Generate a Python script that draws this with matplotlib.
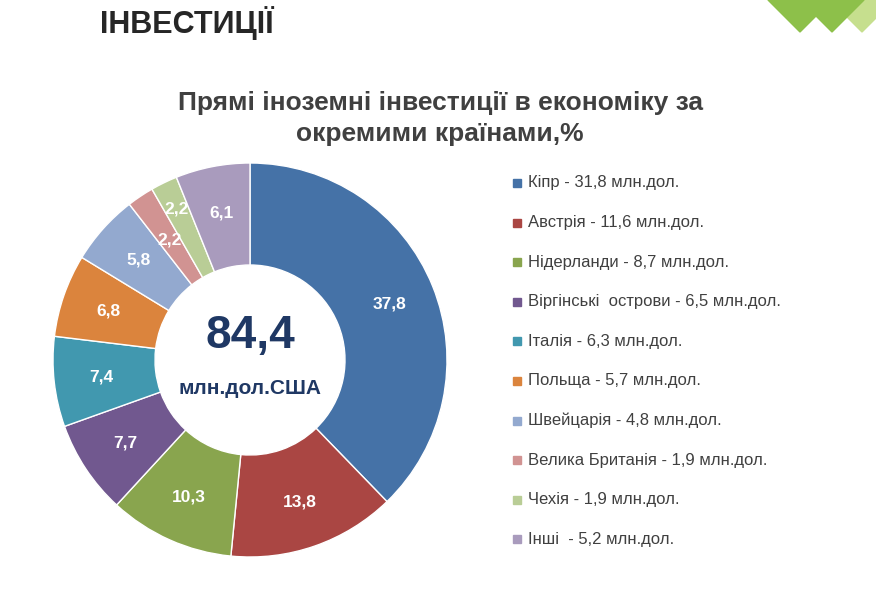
import numpy as np
import matplotlib.pyplot as plt
from matplotlib.patches import Polygon

shares = [37.8, 13.8, 10.3, 7.7, 7.4, 6.8, 5.8, 2.2, 2.2, 6.1]
share_labels = ["37,8", "13,8", "10,3", "7,7", "7,4", "6,8", "5,8", "2,2", "2,2", "6,1"]
legend_labels = [
    "Кіпр - 31,8 млн.дол.",
    "Австрія - 11,6 млн.дол.",
    "Нідерланди - 8,7 млн.дол.",
    "Віргінські  острови - 6,5 млн.дол.",
    "Італія - 6,3 млн.дол.",
    "Польща - 5,7 млн.дол.",
    "Швейцарія - 4,8 млн.дол.",
    "Велика Британія - 1,9 млн.дол.",
    "Чехія - 1,9 млн.дол.",
    "Інші  - 5,2 млн.дол.",
]
colors = ["#4572A7", "#AA4643", "#89A54E", "#71588F", "#4198AF",
          "#DB843D", "#93A9CF", "#D19392", "#B9CD96", "#A99BBD"]
total = "84,4"
# label distance from centre for each slice (small slices staggered)
label_dist = [0.75, 0.75, 0.75, 0.75, 0.75, 0.75, 0.75, 0.72, 0.84, 0.75]

W, H = 876, 613
fig = plt.figure(figsize=(W / 100, H / 100), dpi=100)
plt.rcParams['font.family'] = ['Liberation Sans', 'DejaVu Sans']

# green diamonds in the corner
def diamond(cx, cy, r, col):
    pts = [(cx / W, 1 - (cy - r) / H), ((cx + r) / W, 1 - cy / H),
           (cx / W, 1 - (cy + r) / H), ((cx - r) / W, 1 - cy / H)]
    fig.patches.append(Polygon(pts, closed=True, color=col, transform=fig.transFigure))

diamond(862, 0, 32, "#C6DF8E")
diamond(800, 0, 32, "#8DC04A")
diamond(832, 0, 32, "#8DC04A")

fig.text(100 / W, 1 - 23 / H, "ІНВЕСТИЦІЇ", fontsize=22, fontweight='bold',
         color='#262626', va='center')
fig.text(440 / W, 1 - 103 / H, "Прямі іноземні інвестиції в економіку за",
         fontsize=19, fontweight='bold', color='#404040', ha='center', va='center')
fig.text(440 / W, 1 - 134 / H, "окремими країнами,%",
         fontsize=19, fontweight='bold', color='#404040', ha='center', va='center')

ax = fig.add_axes([(250 - 200) / W, (H - 360 - 200) / H, 400 / W, 400 / H])
wedges, _ = ax.pie(shares, colors=colors, startangle=90, counterclock=False,
                   radius=0.985,
                   wedgeprops=dict(width=0.51, edgecolor='white', linewidth=1))
for w, lab, d in zip(wedges, share_labels, label_dist):
    ang = np.deg2rad((w.theta1 + w.theta2) / 2)
    ax.text(d * np.cos(ang), d * np.sin(ang), lab, color='white', fontsize=12.5,
            fontweight='bold', ha='center', va='center')
ax.set_xlim(-1, 1)
ax.set_ylim(-1, 1)
ax.set_aspect('equal')
ax.axis('off')
ax.text(0, 0.12, total, fontsize=33, fontweight='bold', color='#1F3864',
        ha='center', va='center')
ax.text(0, -0.14, "млн.дол.США", fontsize=15, fontweight='bold', color='#1F3864',
        ha='center', va='center')

for i, (lab, col) in enumerate(zip(legend_labels, colors)):
    y = 183 + i * 39.6
    fig.patches.append(plt.Rectangle((513 / W, 1 - (y + 4) / H), 8 / W, 8 / H,
                                     color=col, transform=fig.transFigure))
    fig.text(528 / W, 1 - y / H, lab, fontsize=12, color='#404040', va='center')

fig.savefig("out.png", dpi=100)
